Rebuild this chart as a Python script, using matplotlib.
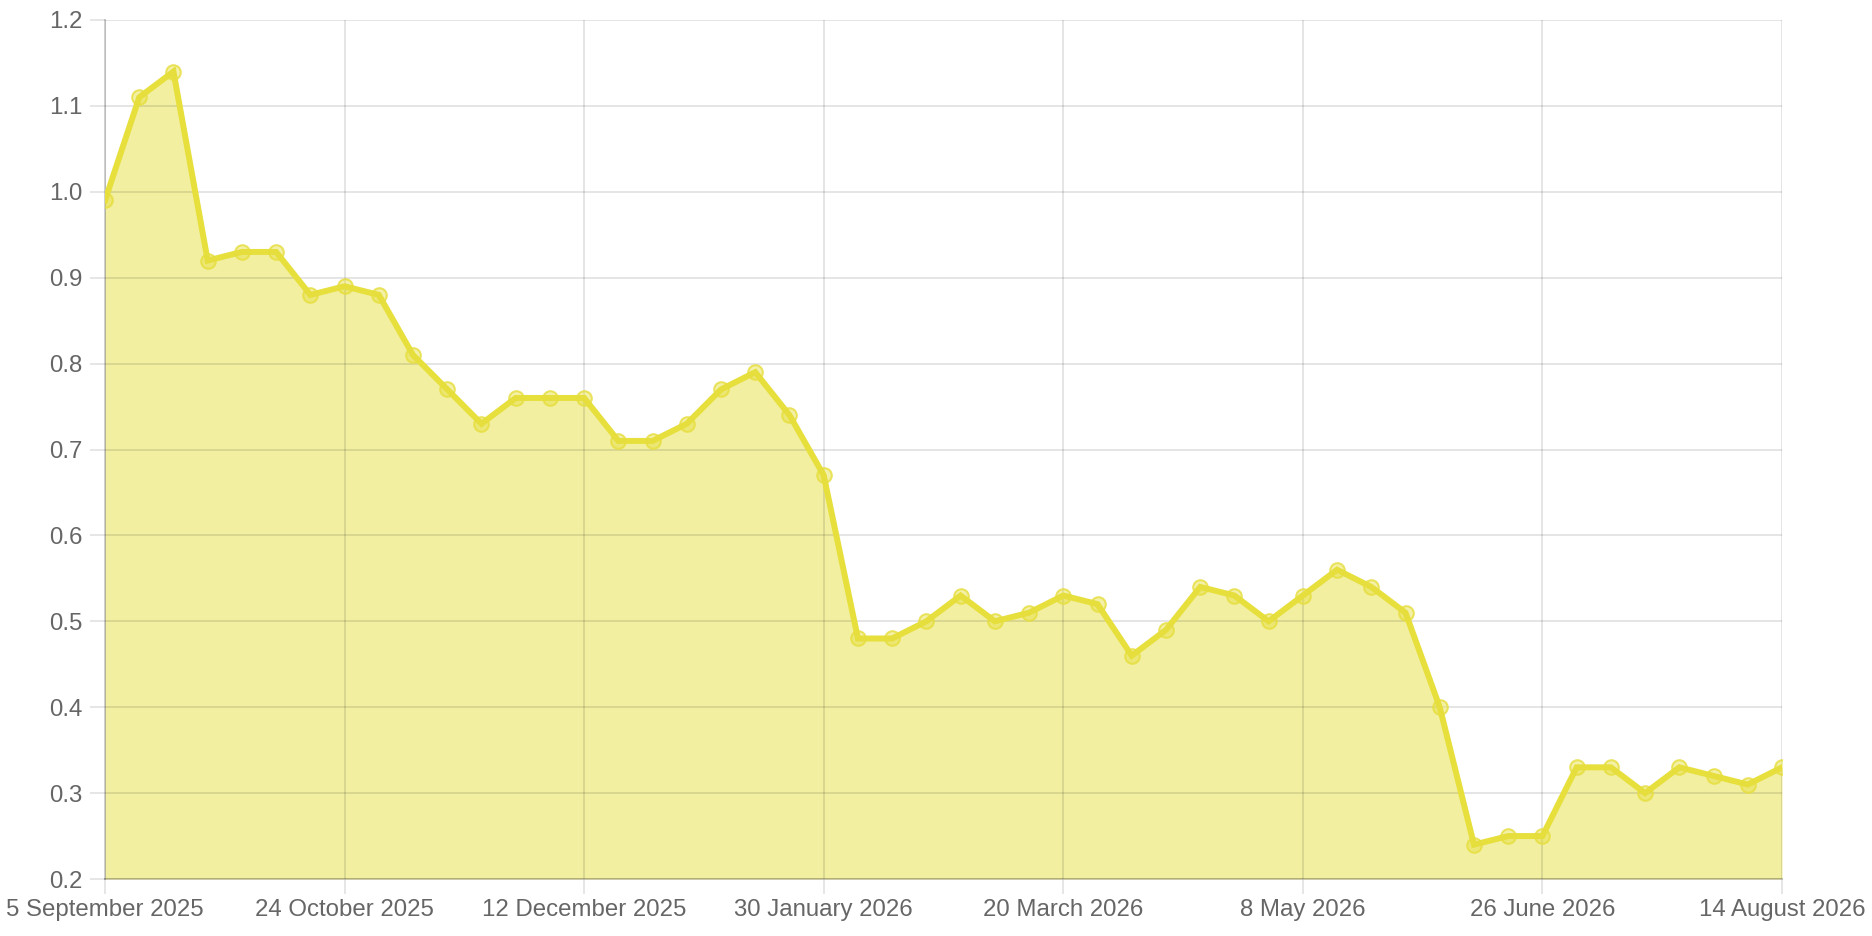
import matplotlib
matplotlib.use("Agg")
import matplotlib.pyplot as plt
import pandas as pd

plt.rcParams['font.family'] = ['Liberation Sans', 'DejaVu Sans']

start_date = "2025-09-05"
values = [0.99, 1.11, 1.14, 0.92, 0.93, 0.93, 0.88, 0.89, 0.88, 0.81,
          0.77, 0.73, 0.76, 0.76, 0.76, 0.71, 0.71, 0.73, 0.77, 0.79,
          0.74, 0.67, 0.48, 0.48, 0.50, 0.53, 0.50, 0.51, 0.53, 0.52,
          0.46, 0.49, 0.54, 0.53, 0.50, 0.53, 0.56, 0.54, 0.51, 0.40,
          0.24, 0.25, 0.25, 0.33, 0.33, 0.30, 0.33, 0.32, 0.31, 0.33]
dates = pd.date_range(start_date, periods=len(values), freq="7D")

x_tick_dates = pd.to_datetime(["2025-09-05", "2025-10-24", "2025-12-12", "2026-01-30",
                               "2026-03-20", "2026-05-08", "2026-06-26", "2026-08-14"])
x_tick_labels = ["5 September 2025", "24 October 2025", "12 December 2025",
                 "30 January 2026", "20 March 2026", "8 May 2026",
                 "26 June 2026", "14 August 2026"]
y_ticks = [0.2, 0.3, 0.4, 0.5, 0.6, 0.7, 0.8, 0.9, 1.0, 1.1, 1.2]
y_tick_labels = ["0.2", "0.3", "0.4", "0.5", "0.6", "0.7", "0.8", "0.9", "1.0", "1.1", "1.2"]

line_color = "#e6df3c"
fill_color = "#f2efa0"
text_color = "#666666"

W, H = 1872, 936
fig = plt.figure(figsize=(W / 100, H / 100), dpi=100)
ax = fig.add_axes([105 / W, 1 - 879 / H, (1782 - 105) / W, (879 - 20) / H])

ax.fill_between(dates, values, 0.2, color=fill_color, linewidth=0, zorder=1)
ax.plot(dates, values, color=line_color, linewidth=4.3, zorder=3,
        solid_joinstyle='miter')
ax.plot(dates, values, linestyle='none', marker='o', markersize=10.5,
        markerfacecolor=(0.90, 0.87, 0.24, 0.45), markeredgecolor=(0.90, 0.87, 0.24, 0.8),
        markeredgewidth=1.5, zorder=4)

ax.set_xlim(dates[0], dates[-1])
ax.set_ylim(0.2, 1.2)
ax.set_xticks(x_tick_dates)
ax.set_xticklabels(x_tick_labels)
ax.set_yticks(y_ticks)
ax.set_yticklabels(y_tick_labels)

ax.set_axisbelow('line')
ax.grid(True, color='black', alpha=0.1, linewidth=1.44)
ax.tick_params(axis='both', color='#e6e6e6', labelcolor=text_color, labelsize=17.3,
               length=11, width=1.44)
ax.tick_params(axis='x', pad=3.5)
ax.tick_params(axis='y', pad=5.5)

for side in ['top', 'right']:
    ax.spines[side].set_visible(False)
for side in ['left', 'bottom']:
    ax.spines[side].set_color((0, 0, 0, 0.18))
    ax.spines[side].set_linewidth(1.44)
    ax.spines[side].set_zorder(2)

fig.savefig("out.png", dpi=100, facecolor="white")
